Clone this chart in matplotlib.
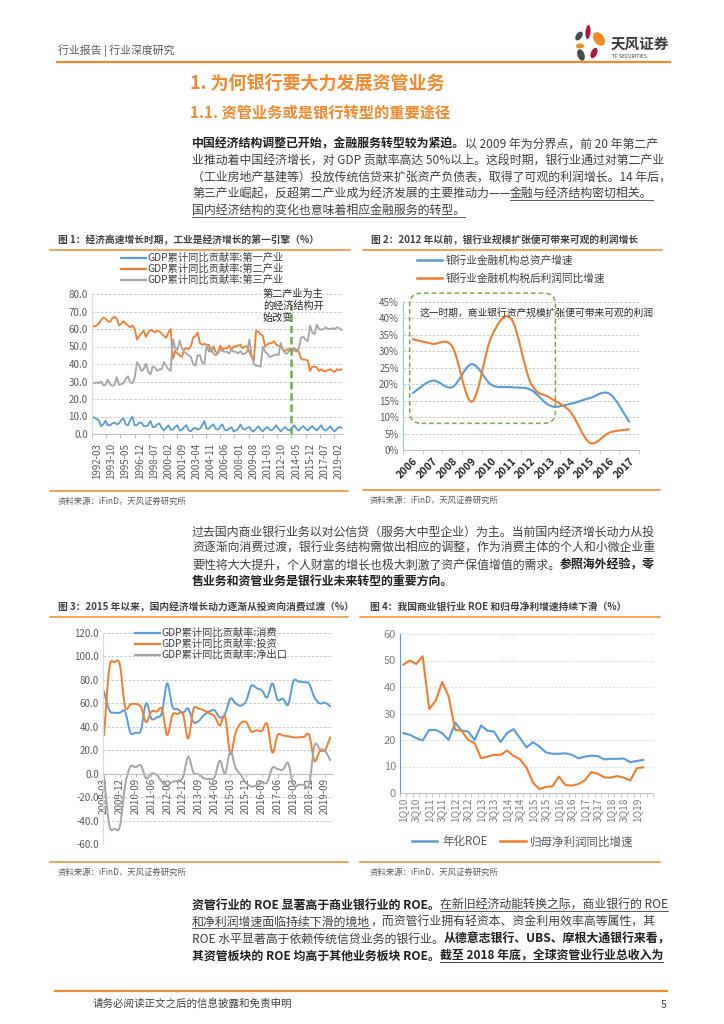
import numpy as np
import matplotlib

matplotlib.use("Agg")

import matplotlib.pyplot as plt
from matplotlib.path import Path
from matplotlib.patches import PathPatch, FancyBboxPatch, Ellipse
from matplotlib.lines import Line2D
from matplotlib.transforms import ScaledTranslation

plt.rcParams["font.family"] = ["Noto Sans CJK SC", "DejaVu Sans"]
plt.rcParams["axes.unicode_minus"] = False

W, H = 724, 1024
BLUE = "#5B9BD5"
ORANGE = "#ED7D31"
GRAY = "#A5A5A5"
GREEN = "#70AD47"
RULE = "#F0892B"
HEAD = "#EF8A2F"
TXT = "#3F3F3F"
TXT_B = "#1F1F1F"
TICK = "#595959"
GRID = "#BFBFBF"

# ---- chart 1: GDP contribution by industry, quarterly 1992Q1-2019Q4 ----
gdp_primary = [
    9.5, 9.5, 8.5, 8.0,  # 1992
    4.5, 5.5, 7.5, 5.0,  # 1993
    5.0, 6.0, 6.5, 5.5,  # 1994
    6.0, 8.0, 9.0, 5.5,  # 1995
    5.0, 8.0, 10.0, 5.0,  # 1996
    5.0, 6.5, 6.5, 4.5,  # 1997
    4.5, 5.0, 7.5, 4.0,  # 1998
    4.0, 5.5, 6.0, 3.5,  # 1999
    2.0, 3.5, 5.0, 2.5,  # 2000
    2.5, 4.0, 5.0, 2.0,  # 2001
    2.5, 4.0, 5.0, 2.0,  # 2002
    1.5, 3.0, 3.5, 2.5,  # 2003
    3.0, 5.0, 7.5, 3.0,  # 2004
    3.0, 4.5, 5.5, 3.0,  # 2005
    2.5, 4.0, 5.5, 2.5,  # 2006
    2.0, 3.0, 4.0, 1.5,  # 2007
    2.0, 3.0, 5.5, 3.0,  # 2008
    2.5, 3.5, 4.0, 2.0,  # 2009
    1.5, 3.0, 4.5, 2.5,  # 2010
    1.5, 3.0, 4.0, 2.5,  # 2011
    2.0, 3.5, 5.0, 3.0,  # 2012
    1.5, 3.0, 4.0, 2.5,  # 2013
    2.0, 3.5, 5.0, 3.0,  # 2014
    2.0, 3.5, 4.5, 3.0,  # 2015
    2.0, 3.5, 4.5, 3.0,  # 2016
    2.0, 3.5, 5.0, 2.5,  # 2017
    2.0, 3.0, 4.5, 2.5,  # 2018
    1.5, 3.0, 4.0, 3.5,  # 2019
]
gdp_secondary = [
    61.5, 61.5, 62.0, 63.0,
    65.0, 66.5, 66.0, 64.5,
    64.0, 66.0, 67.0, 66.0,
    62.0, 63.0, 64.5, 63.0,
    62.0, 61.0, 62.0, 60.0,
    54.0, 56.0, 57.5, 59.0,
    55.5, 58.0, 59.5, 59.0,
    58.0, 59.0, 58.5, 57.5,
    56.0, 55.0, 58.0, 60.0,
    43.0, 47.5, 46.0, 45.0,
    44.0, 48.5, 49.0, 48.5,
    50.0, 55.0, 56.0, 58.0,
    52.0, 51.0, 51.5, 51.0,
    51.0, 47.0, 50.0, 47.0,
    46.0, 50.5, 48.0, 49.0,
    49.0, 50.5, 48.0, 50.0,
    50.0, 50.5, 51.0, 49.0,
    50.0, 50.0, 47.0, 44.0,
    42.0, 59.0, 58.5, 57.0,
    56.0, 50.0, 51.0, 52.0,
    52.0, 53.0, 51.0, 50.5,
    50.0, 48.0, 47.5, 48.5,
    47.5, 48.5, 49.0, 48.0,
    47.0, 43.0, 42.5, 42.5,
    42.0, 36.0, 38.5, 38.5,
    38.0, 36.0, 37.0, 36.0,
    36.0, 36.5, 37.0, 36.0,
    35.5, 37.0, 36.5, 37.0,
]
gdp_tertiary = [
    29.0, 29.0, 29.5, 29.0,
    30.0, 28.0, 28.0, 31.0,
    28.5, 27.5, 28.0, 32.5,
    28.0, 28.5, 29.0, 31.5,
    33.0, 29.5, 29.0, 32.0,
    41.0, 39.0, 36.0, 37.0,
    40.0, 35.5, 34.0, 38.5,
    38.0, 36.0, 37.0, 37.0,
    41.0, 39.0, 37.0, 36.0,
    54.0, 49.0, 48.0, 53.5,
    49.0, 47.0, 46.0, 45.0,
    44.0, 40.0, 39.0, 45.0,
    45.0, 41.0, 40.0, 51.0,
    47.0, 49.0, 46.0, 45.0,
    46.0, 48.0, 47.5, 47.0,
    47.0, 46.0, 48.0, 47.0,
    47.0, 46.0, 47.5, 45.5,
    46.0, 47.0, 54.0, 45.0,
    40.0, 39.0, 39.0, 38.5,
    50.0, 47.0, 46.0, 44.0,
    44.5, 45.0, 45.5, 45.0,
    52.0, 48.0, 46.0, 46.0,
    49.0, 47.0, 48.0, 47.0,
    49.0, 55.0, 55.5, 54.0,
    53.0, 62.0, 58.0, 57.0,
    62.5, 60.0, 59.5, 60.0,
    61.0, 60.0, 60.0, 60.5,
    60.0, 61.0, 60.5, 59.5,
]
c1_ticks = ["1992-03", "1993-10", "1995-05", "1996-12", "1998-07", "2000-02",
            "2001-09", "2003-04", "2004-11", "2006-06", "2008-01", "2009-08",
            "2011-03", "2012-10", "2014-05", "2015-12", "2017-07", "2019-02"]
c1_shift = "2014-05"
c1_labels = ["GDP累计同比贡献率:第一产业", "GDP累计同比贡献率:第二产业", "GDP累计同比贡献率:第三产业"]

# ---- chart 2: bank assets vs profit growth ----
c2_years = ["2006", "2007", "2008", "2009", "2010", "2011",
            "2012", "2013", "2014", "2015", "2016", "2017"]
bank_assets = [17.3, 21.1, 19.1, 26.1, 19.8, 19.1, 18.3, 13.4, 14.0, 15.8, 17.1, 8.6]
bank_profit = [33.7, 32.3, 31.5, 14.7, 34.5, 39.9, 20.3, 15.8, 11.7, 2.2, 5.3, 6.3]
c2_labels = ["银行业金融机构总资产增速", "银行业金融机构税后利润同比增速"]

# ---- chart 3: consumption / investment / net exports, quarterly 2009Q1-2019Q4 ----
consumption = [70, 54, 52, 52, 53, 35, 35, 37, 60, 47, 48, 52,
               77, 57, 55, 52, 55.5, 44, 45, 50, 53, 54, 48, 51,
               64, 60, 58, 62, 75, 73, 71, 65, 77, 63, 64, 59,
               79, 78.5, 78, 76.5, 65, 60, 60.5, 57.5]
investment = [33, 90, 95, 93, 57, 59, 59.5, 57, 44, 53, 53, 55,
              33, 50, 51, 51, 30, 55, 55.5, 54, 51.5, 49, 41, 49,
              17, 35, 43, 44, 36, 37, 36.5, 42.5, 18, 33, 32.5, 32,
              31, 31, 31.5, 33, 11, 19, 20, 31]
net_exports = [-3, -44, -47, -45, -10, 6, 5.5, 7, -4, 0, -1, -7,
               -10, -7, -6, -3, 14.5, 1, -0.5, -4, -4.5, -3, 11, 0,
               19, 5, -1, -8, -11, -10, -7.5, -7.5, 5, 4, 3.5, 9,
               -10, -9.5, -9.5, -9.5, 24, 21, 19.5, 11.5]
c3_ticks = ["2009-03", "2009-12", "2010-09", "2011-06", "2012-03", "2012-12",
            "2013-09", "2014-06", "2015-03", "2015-12", "2016-09", "2017-06",
            "2018-03", "2018-12", "2019-09"]
c3_labels = ["GDP累计同比贡献率:消费", "GDP累计同比贡献率:投资", "GDP累计同比贡献率:净出口"]

# ---- chart 4: bank ROE and net profit growth, 1Q10-2Q19 ----
roe = [22.6, 22.0, 20.7, 19.8, 23.8, 23.8, 22.6, 20.0, 26.6, 23.5,
       23.2, 20.0, 25.5, 23.5, 23.2, 19.2, 22.6, 24.1, 20.7, 17.2,
       19.2, 17.5, 15.3, 14.8, 14.8, 15.0, 14.4, 13.1, 13.7, 14.1,
       13.9, 12.7, 12.9, 12.9, 13.0, 11.6, 12.1, 12.5]
profit_growth = [48.4, 50.0, 48.7, 51.6, 31.7, 34.8, 41.9, 36.4, 23.8, 23.5,
                 20.0, 18.8, 13.1, 13.7, 14.4, 14.4, 16.0, 14.0, 12.7, 9.6,
                 3.9, 1.5, 2.3, 2.5, 6.2, 3.0, 2.8, 3.4, 4.8, 7.9,
                 7.3, 5.9, 5.8, 6.4, 5.8, 4.7, 9.3, 9.7]
c4_quarters = [f"{q}Q{y:02d}" for y in range(10, 20) for q in range(1, 5)][:38]
c4_labels = ["年化ROE", "归母净利润同比增速"]

para1 = [
    [("中国经济结构调整已开始，金融服务转型较为紧迫。", "b"), ("以 2009 年为分界点，前 20 年第二产", "")],
    [("业推动着中国经济增长，对 GDP 贡献率高达 50%以上。这段时期，银行业通过对第二产业", "")],
    [("（工业房地产基建等）投放传统信贷来扩张资产负债表，取得了可观的利润增长。14 年后，", "")],
    [("第三产业崛起，反超第二产业成为经济发展的主要推动力——", ""), ("金融与经济结构密切相关。", "u")],
    [("国内经济结构的变化也意味着相应金融服务的转型。", "u")],
]
para2 = [
    [("过去国内商业银行业务以对公信贷（服务大中型企业）为主。当前国内经济增长动力从投", "")],
    [("资逐渐向消费过渡，银行业务结构需做出相应的调整，作为消费主体的个人和小微企业重", "")],
    [("要性将大大提升，个人财富的增长也极大刺激了资产保值增值的需求。", ""), ("参照海外经验，零", "b")],
    [("售业务和资管业务是银行业未来转型的重要方向。", "b")],
]
para3 = [
    [("资管行业的 ROE 显著高于商业银行业的 ROE。", "b"), ("在新旧经济动能转换之际，商业银行的 ROE", "u")],
    [("和净利润增速面临持续下滑的境地", "u"), ("，而资管行业拥有轻资本、资金利用效率高等属性，其", "")],
    [("ROE 水平显著高于依赖传统信贷业务的银行业。", ""), ("从德意志银行、UBS、摩根大通银行来看，", "b")],
    [("其资管板块的 ROE 均高于其他业务板块 ROE。", "b"), ("截至 2018 年底，全球资管业行业总收入为", "bu")],
]

fig = plt.figure(figsize=(W / 100, H / 100), dpi=100)
page = fig.add_axes([0, 0, 1, 1])
page.set_xlim(0, W)
page.set_ylim(H, 0)
page.axis("off")
renderer = fig.canvas.get_renderer()


def rect(x0, y0, x1, y1):
    return [x0 / W, 1 - y1 / H, (x1 - x0) / W, (y1 - y0) / H]


def rich_line(x, y, parts, size=8.6):
    em = size * 100 / 72
    base = y + 0.36 * em
    for s, style in parts:
        bold = "b" in style
        kw = dict(fontsize=size, color=TXT_B if bold else TXT,
                  fontweight="bold" if bold else "normal")
        page.text(x, base, s, ha="left", va="baseline", **kw)
        probe = page.text(0, 0, "中", **kw)
        both = page.text(0, 0, s + "中", **kw)
        w = both.get_window_extent(renderer).width - probe.get_window_extent(renderer).width
        probe.remove()
        both.remove()
        if "u" in style:
            page.plot([x, x + w], [base + 2.5, base + 2.5], color=kw["color"], lw=0.6)
        x += w


def paragraph(lines, ys, x=192):
    for parts, y in zip(lines, ys):
        rich_line(x, y, parts)


def smooth_path(xs, ys):
    pts = np.column_stack([np.asarray(xs, float), np.asarray(ys, float)])
    n = len(pts)
    verts, codes = [pts[0]], [Path.MOVETO]
    for i in range(n - 1):
        p0 = pts[max(i - 1, 0)]
        p1, p2 = pts[i], pts[i + 1]
        p3 = pts[min(i + 2, n - 1)]
        verts += [p1 + (p2 - p0) / 6, p2 - (p3 - p1) / 6, p2]
        codes += [Path.CURVE4] * 3
    return Path(verts, codes)


def add_smooth(ax, xs, ys, color, lw=1.5):
    ax.add_patch(PathPatch(smooth_path(xs, ys), fill=False, ec=color, lw=lw,
                           capstyle="round", joinstyle="round"))


def style_axes(ax, left_color="#D9D9D9"):
    ax.spines["top"].set_visible(False)
    ax.spines["right"].set_visible(False)
    ax.spines["left"].set_color(left_color)
    ax.spines["bottom"].set_color(GRID)
    ax.grid(axis="y", color=GRID, lw=0.6, ls=(0, (3, 2)))
    ax.set_axisbelow(True)
    ax.tick_params(axis="y", length=0, labelsize=7, labelcolor=TICK, pad=3)
    ax.tick_params(axis="x", length=3, color=GRID, labelsize=7, labelcolor=TICK)


def caption(x0, x1, y, text, tx):
    page.text(tx, y, text, fontsize=7, fontweight="bold", color="#404040", va="center")
    page.plot([x0, x1], [y + 10, y + 10], color=RULE, lw=1.1)


def source(x0, x1, y, tx):
    page.plot([x0, x1], [y, y], color=RULE, lw=1.1)
    page.text(tx, y + 10, "资料来源：iFinD，天风证券研究所", fontsize=6, color="#595959", va="center")


# ---- header ----
page.text(58, 51, "行业报告 | 行业深度研究", fontsize=7.8, color="#595959", va="center")
page.plot([57, 670], [62, 62], color=RULE, lw=1.6)
for cx, cy, ew, eh, ang, col in [
    (588, 32, 5, 14, 5, "#B0173C"), (579, 36, 6, 10, 35, "#4A4A4A"),
    (599, 39, 10, 15, -35, "#F08A24"), (580, 46, 8, 5, 0, "#F08A24"),
    (581, 55, 7, 12, -20, "#4A4A4A"), (594, 53, 6, 11, 25, "#B0173C"),
]:
    page.add_patch(Ellipse((cx, cy), ew, eh, angle=ang, color=col, lw=0))
page.text(611, 44, "天风证券", fontsize=10.5, fontweight="bold", color="#3A3A3A", va="center")
page.text(612, 56, "TF SECURITIES", fontsize=3.6, color="#3A3A3A", va="center")

page.text(190, 83, "1. 为何银行要大力发展资管业务", fontsize=13, fontweight="bold", color=HEAD, va="center")
page.text(190, 113, "1.1. 资管业务或是银行转型的重要途径", fontsize=11, fontweight="bold", color=HEAD, va="center")
paragraph(para1, [143, 160, 176, 193, 210])

caption(50, 350, 240, "图 1：经济高速增长时期，工业是经济增长的第一引擎（%）", 58)
caption(363, 662, 240, "图 2：2012 年以前，银行业规模扩张便可带来可观的利润增长", 371)

# ---- chart 1 ----
ax1 = fig.add_axes(rect(92, 294, 343, 434))
months1 = np.arange(len(gdp_primary)) * 3


def month_of(label, y0, m0):
    y, m = label.split("-")
    return (int(y) - y0) * 12 + int(m) - m0


for vals, col in zip([gdp_primary, gdp_secondary, gdp_tertiary], [BLUE, ORANGE, GRAY]):
    ax1.plot(months1, vals, color=col, lw=1.3)
xs = month_of(c1_shift, 1992, 3)
ax1.plot([xs, xs], [0, 74], color=GREEN, lw=1.8, ls=(0, (3, 1.5)))
ax1.text(228, 83, "第二产业为主\n的经济结构开\n始改变", fontsize=7.3, color="#262626",
         va="top", linespacing=1.25, clip_on=False)
ax1.set_xlim(0, 335)
ax1.set_ylim(0, 80)
ax1.set_yticks(np.arange(0, 81, 10))
ax1.set_yticklabels([f"{v:.1f}" for v in np.arange(0, 81, 10)])
ax1.set_xticks([month_of(t, 1992, 3) for t in c1_ticks])
ax1.set_xticklabels(c1_ticks, rotation=90)
style_axes(ax1)
for lbl in ax1.get_xticklabels():
    lbl.set_transform(lbl.get_transform() + ScaledTranslation(0.05, 0, fig.dpi_scale_trans))
ax1.legend([Line2D([], [], color=c, lw=1.6) for c in (BLUE, ORANGE, GRAY)], c1_labels,
           loc="upper left", bbox_to_anchor=(121 / W, 1 - 253 / H), bbox_transform=fig.transFigure,
           frameon=False, fontsize=7.4, handlelength=2.4, handletextpad=0.15,
           labelspacing=0.08, borderpad=0, borderaxespad=0, labelcolor="#404040")
source(50, 348, 491, 58)

# ---- chart 2 ----
ax2 = fig.add_axes(rect(403, 302, 639, 450))
x2 = np.arange(len(c2_years))
add_smooth(ax2, x2, bank_assets, BLUE, 1.5)
add_smooth(ax2, x2, bank_profit, ORANGE, 1.5)
ax2.set_xlim(-0.5, len(c2_years) - 0.5)
ax2.set_ylim(0, 45)
ax2.set_yticks(np.arange(0, 46, 5))
ax2.set_yticklabels([f"{v}%" for v in np.arange(0, 46, 5)])
style_axes(ax2, left_color="#9DC3E6")
ax2.set_xticks(x2)
ax2.set_xticklabels(c2_years, rotation=45, ha="right", rotation_mode="anchor",
                    fontsize=7.5, fontweight="bold", color="#262626")
ax2.tick_params(axis="x", length=0, pad=4)
ax2.set_xticks(np.arange(-0.5, len(c2_years)), minor=True)
ax2.tick_params(axis="x", which="minor", length=3, color=GRID)
aspect = (236 / len(c2_years)) / (148 / 45)
ax2.add_patch(FancyBboxPatch((-0.16, 8.1), 7.41, 39.6, boxstyle="round,pad=0,rounding_size=0.6",
                             mutation_aspect=aspect, fill=False, ec=GREEN, lw=1.1,
                             ls=(0, (3, 2)), clip_on=False))
ax2.text(0.36, 41.6, "这一时期，商业银行资产规模扩张便可带来可观的利润", fontsize=7,
         color="#262626", va="center", clip_on=False)
ax2.legend([Line2D([], [], color=c, lw=1.8) for c in (BLUE, ORANGE)], c2_labels,
           loc="upper left", bbox_to_anchor=(417 / W, 1 - 255 / H), bbox_transform=fig.transFigure,
           frameon=False, fontsize=7.7, handlelength=2.3, handletextpad=0.35,
           labelspacing=0.7, borderpad=0, borderaxespad=0, labelcolor="#404040")
source(363, 660, 490, 370)

# ---- paragraph 2 ----
paragraph(para2, [531, 547.5, 564, 580.5])

caption(50, 348, 607, "图 3：2015 年以来，国内经济增长动力逐渐从投资向消费过渡（%）", 58)
caption(360, 660, 607, "图 4：我国商业银行业 ROE 和归母净利增速持续下滑（%）", 370)

# ---- chart 3 ----
ax3 = fig.add_axes(rect(103, 633, 332, 844))
ax3.spines["bottom"].set_position(("data", 0))
months3 = np.arange(len(consumption)) * 3
add_smooth(ax3, months3, consumption, BLUE, 1.4)
add_smooth(ax3, months3, investment, ORANGE, 1.4)
add_smooth(ax3, months3, net_exports, GRAY, 1.4)
ax3.set_xlim(-0.6, 130)
ax3.set_ylim(-60, 120)
ax3.set_yticks(np.arange(-60, 121, 20))
ax3.set_yticklabels([f"{v:.1f}" for v in np.arange(-60, 121, 20)])
ax3.set_xticks([month_of(t, 2009, 3) for t in c3_ticks])
ax3.set_xticklabels(c3_ticks, rotation=90)
style_axes(ax3)
ax3.tick_params(axis="x", length=2, pad=1)
ax3.legend([Line2D([], [], color=c, lw=1.6) for c in (BLUE, ORANGE, GRAY)], c3_labels,
           loc="upper left", bbox_to_anchor=(135 / W, 1 - 628 / H), bbox_transform=fig.transFigure,
           frameon=False, fontsize=7.4, handlelength=2.4, handletextpad=0.15,
           labelspacing=0.08, borderpad=0, borderaxespad=0, labelcolor="#404040")
source(50, 348, 862, 58)

# ---- chart 4 ----
ax4 = fig.add_axes(rect(400, 634, 653, 793))
x4 = np.arange(len(roe))
ax4.plot(x4, roe, color=BLUE, lw=1.5)
ax4.plot(x4, profit_growth, color=ORANGE, lw=1.5)
ax4.set_xlim(-0.5, len(c4_quarters) + 0.5)
ax4.set_ylim(0, 60)
ax4.set_yticks(np.arange(0, 61, 10))
style_axes(ax4, left_color="#5B9BD5")
ax4.grid(axis="y", color="#D9D9D9", lw=0.6, ls=(0, (3, 2)))
ax4.tick_params(axis="y", labelsize=8, labelcolor="#7F7F7F")
ax4.set_xticks(np.arange(0, len(c4_quarters), 2))
ax4.set_xticklabels(c4_quarters[::2], rotation=90, fontsize=7.3, color="#7F7F7F")
ax4.tick_params(axis="x", length=0, pad=3)
ax4.set_xticks(np.arange(-0.5, len(c4_quarters) + 1), minor=True)
ax4.tick_params(axis="x", which="minor", length=3, color=GRID)
ax4.legend([Line2D([], [], color=c, lw=1.8) for c in (BLUE, ORANGE)], c4_labels,
           loc="center left", bbox_to_anchor=(412 / W, 1 - 842 / H), bbox_transform=fig.transFigure,
           frameon=False, fontsize=8.3, ncol=2, handlelength=2.2, handletextpad=0.4,
           columnspacing=1.1, borderpad=0, borderaxespad=0, labelcolor="#595959")
source(360, 660, 862, 370)

# ---- paragraph 3 ----
paragraph(para3, [904, 921, 938, 955])

# ---- footer ----
page.plot([55, 667], [991, 991], color=RULE, lw=1.6)
page.text(93, 1004, "请务必阅读正文之后的信息披露和免责申明", fontsize=7.6, color="#404040", va="center")
page.text(661, 1005, "5", fontsize=7.6, color="#404040", va="center")

fig.savefig("out.png", dpi=100)
plt.close(fig)
